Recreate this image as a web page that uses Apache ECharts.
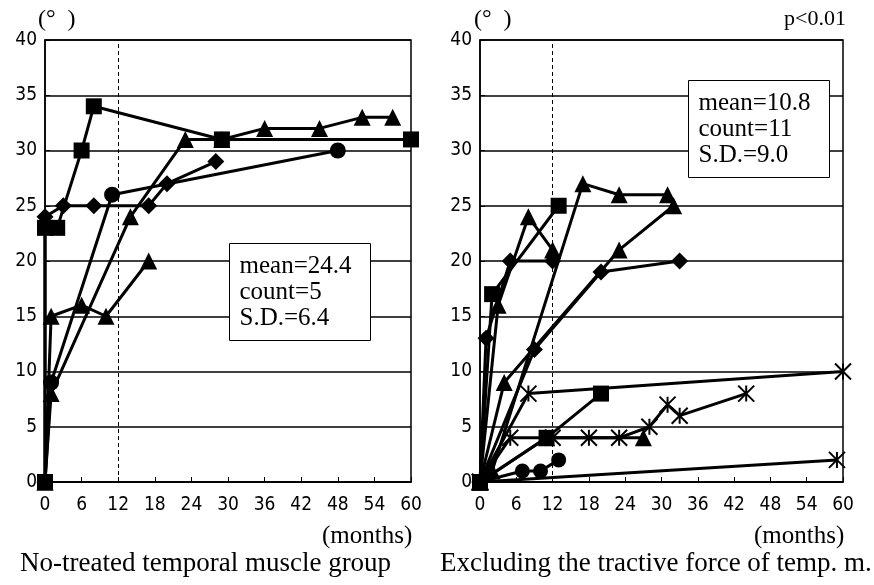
<!DOCTYPE html>
<html>
<head>
<meta charset="utf-8">
<script src="https://cdn.jsdelivr.net/npm/echarts@6/dist/echarts.min.js"></script>
<style>
  html, body { margin: 0; padding: 0; background: #fff; }
  #chart { width: 874px; height: 585px; }
</style>
</head>
<body>
<div id="chart"></div>
<script>
// axis ranges (months / degrees)
var xMax = 60, xStep = 6
var yMax = 40, yStep = 5
var dashedAt = 12

// left panel: no-treated temporal muscle group
var leftSquares = [[0, 0], [0, 23], [2, 23], [6, 30], [8, 34], [29, 31], [60, 31]]
var leftDiamonds = [[0, 0], [0, 24], [3, 25], [8, 25], [17, 25], [20, 27], [28, 29]]
var leftCircles = [[0, 0], [1, 9], [11, 26], [48, 30]]
var leftTriA = [[0, 0], [1, 8], [14, 24], [23, 31], [29, 31], [36, 32], [45, 32], [52, 33], [57, 33]]
var leftTriB = [[0, 0], [1, 15], [6, 16], [10, 15], [17, 20]]
var leftStats = ['mean=24.4', 'count=5', 'S.D.=6.4']

// right panel: excluding the tractive force of temp. m.
var rightSquaresA = [[0, 0], [2, 17], [13, 25]]
var rightTriA = [[0, 0], [2, 1], [17, 27], [23, 26], [31, 26]]
var rightTriB = [[0, 0], [3, 16], [8, 24], [12, 21]]
var rightDiamondsA = [[0, 0], [1, 13], [5, 20], [12, 20]]
var rightDiamondsB = [[0, 0], [9, 12], [20, 19], [33, 20]]
var rightTriC = [[0, 0], [4, 9], [23, 21], [32, 25]]
var rightStarsA = [[0, 0], [8, 8], [60, 10]]
var rightSquaresB = [[0, 0], [11, 4], [20, 8]]
var rightStarsB = [[0, 0], [5, 4], [12, 4], [18, 4], [23, 4], [28, 5], [31, 7], [33, 6], [44, 8]]
var rightTriD = [[0, 0], [11, 4], [27, 4]]
var rightCircles = [[0, 0], [7, 1], [10, 1], [13, 2]]
var rightStarsC = [[0, 0], [59, 2]]
var rightStats = ['mean=10.8', 'count=11', 'S.D.=9.0']

var starPath = 'path://M0,0L10,10M10,0L0,10M5,0L5,10'
var tickFont = '"Liberation Sans Narrow", "DejaVu Sans Condensed", "Liberation Sans", sans-serif'
var serif = '"Liberation Serif", "DejaVu Serif", serif'

function mkSeries (data, symbol, size, idx, extra) {
  var s = {
    type: 'line',
    xAxisIndex: idx,
    yAxisIndex: idx,
    data: data,
    symbol: symbol,
    symbolSize: size,
    showAllSymbol: true,
    clip: false,
    lineStyle: { color: '#000', width: 3 },
    itemStyle: { color: '#000', borderColor: '#000', borderWidth: symbol === starPath ? 2 : 0 },
    emphasis: { disabled: true },
    animation: false,
    z: 3
  }
  if (extra) s.markLine = extra
  return s
}

function dashLine () {
  return {
    silent: true,
    symbol: 'none',
    label: { show: false },
    lineStyle: { color: '#000', type: [4, 3], width: 1 },
    data: [{ xAxis: dashedAt }]
  }
}

function xAxisFor (gi) {
  return {
    type: 'value', gridIndex: gi, min: 0, max: xMax, interval: xStep,
    axisLine: { show: true, onZero: false, lineStyle: { color: '#000', width: 1.5 } },
    axisTick: { show: true, inside: true, length: 5, lineStyle: { color: '#000' } },
    axisLabel: { color: '#000', fontFamily: tickFont, fontSize: 19, margin: 14 },
    splitLine: { show: false }
  }
}

function yAxisFor (gi) {
  return {
    type: 'value', gridIndex: gi, min: 0, max: yMax, interval: yStep,
    axisLine: { show: true, lineStyle: { color: '#000', width: 1.5 } },
    axisTick: { show: true, inside: true, length: 5, lineStyle: { color: '#000' } },
    axisLabel: { color: '#000', fontFamily: tickFont, fontSize: 19, margin: 8 },
    splitLine: { show: true, lineStyle: { color: '#000', width: 1.5 } }
  }
}

function statsBox (x, y, w, h, lines) {
  return {
    type: 'group', left: x, top: y,
    children: [
      { type: 'rect', shape: { x: 0, y: 0, width: w, height: h }, style: { fill: '#fff', stroke: '#000', lineWidth: 1 }, z: 10 },
      { type: 'text', left: 10, top: 10, z: 11,
        style: { text: lines.join('\n'), font: '25px ' + serif, lineHeight: 26, fill: '#000' } }
    ]
  }
}

var chart = echarts.init(document.getElementById('chart'))
chart.setOption({
  backgroundColor: '#fff',
  animation: false,
  grid: [
    { left: 45, right: 463, top: 40, bottom: 103, show: true, borderColor: '#000', borderWidth: 1.5 },
    { left: 480, right: 31, top: 40, bottom: 103, show: true, borderColor: '#000', borderWidth: 1.5 }
  ],
  xAxis: [xAxisFor(0), xAxisFor(1)],
  yAxis: [yAxisFor(0), yAxisFor(1)],
  series: [
    mkSeries(leftCircles, 'circle', 16, 0, dashLine()),
    mkSeries(leftDiamonds, 'diamond', 17, 0),
    mkSeries(leftTriB, 'triangle', 17, 0),
    mkSeries(leftTriA, 'triangle', 17, 0),
    mkSeries(leftSquares, 'rect', 16, 0),

    mkSeries(rightCircles, 'circle', 15, 1, dashLine()),
    mkSeries(rightStarsC, starPath, 16, 1),
    mkSeries(rightTriD, 'triangle', 17, 1),
    mkSeries(rightStarsB, starPath, 16, 1),
    mkSeries(rightSquaresB, 'rect', 16, 1),
    mkSeries(rightStarsA, starPath, 16, 1),
    mkSeries(rightTriC, 'triangle', 17, 1),
    mkSeries(rightDiamondsB, 'diamond', 17, 1),
    mkSeries(rightDiamondsA, 'diamond', 17, 1),
    mkSeries(rightTriB, 'triangle', 17, 1),
    mkSeries(rightTriA, 'triangle', 17, 1),
    mkSeries(rightSquaresA, 'rect', 16, 1)
  ],
  graphic: [
    { type: 'text', left: 38, top: 8, style: { text: '(°  )', font: '24px ' + serif, fill: '#000' } },
    { type: 'text', left: 474, top: 8, style: { text: '(°  )', font: '24px ' + serif, fill: '#000' } },
    { type: 'text', right: 28, top: 8, style: { text: 'p<0.01', font: '22px ' + serif, fill: '#000' } },
    { type: 'text', left: 322, top: 524, style: { text: '(months)', font: '25px ' + serif, fill: '#000' } },
    { type: 'text', left: 754, top: 524, style: { text: '(months)', font: '25px ' + serif, fill: '#000' } },
    { type: 'text', left: 20, top: 550, style: { text: 'No-treated temporal muscle group', font: '27px ' + serif, fill: '#000' } },
    { type: 'text', left: 440, top: 550, style: { text: 'Excluding the tractive force of temp. m.', font: '27px ' + serif, fill: '#000' } },
    statsBox(229, 243, 141, 97, leftStats),
    statsBox(688, 80, 141, 97, rightStats)
  ]
})
</script>
</body>
</html>
